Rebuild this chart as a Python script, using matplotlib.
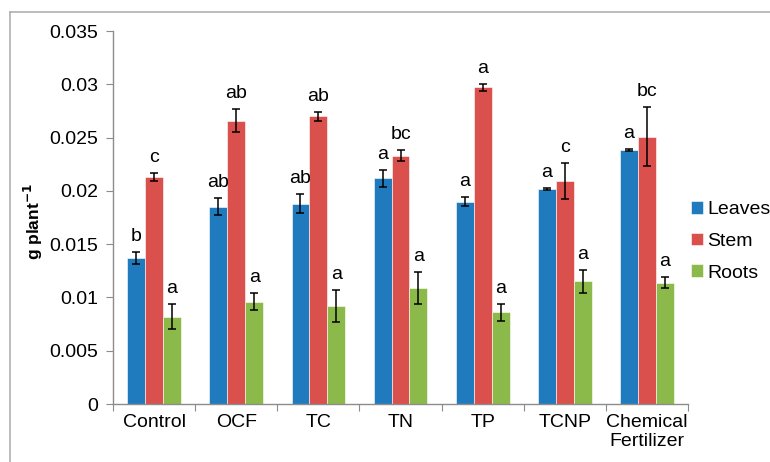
import numpy as np
import matplotlib
matplotlib.use('Agg')
import matplotlib.pyplot as plt
from matplotlib.lines import Line2D

plt.rcParams['font.family'] = ['Liberation Sans', 'DejaVu Sans']

treatments = ['Control', 'OCF', 'TC', 'TN', 'TP', 'TCNP', 'Chemical\nFertilizer']

leaves = [0.0137, 0.0185, 0.0188, 0.0212, 0.0190, 0.0202, 0.0238]
leaves_err = [0.0006, 0.0008, 0.0009, 0.0008, 0.0004, 0.0001, 0.0001]
leaves_sig = ['b', 'ab', 'ab', 'a', 'a', 'a', 'a']

stem = [0.0213, 0.0266, 0.0270, 0.0233, 0.0297, 0.0209, 0.0251]
stem_err = [0.0004, 0.0011, 0.0004, 0.0005, 0.0003, 0.0017, 0.0028]
stem_sig = ['c', 'ab', 'ab', 'bc', 'a', 'c', 'bc']

roots = [0.0082, 0.0096, 0.0092, 0.0109, 0.0086, 0.0115, 0.0114]
roots_err = [0.0012, 0.0008, 0.0015, 0.0015, 0.0008, 0.0011, 0.0005]
roots_sig = ['a', 'a', 'a', 'a', 'a', 'a', 'a']

ytick_vals = [0, 0.005, 0.01, 0.015, 0.02, 0.025, 0.03, 0.035]
ytick_labels = ['0', '0.005', '0.01', '0.015', '0.02', '0.025', '0.03', '0.035']

series = [
    ('Leaves', leaves, leaves_err, leaves_sig, '#1f7bbd'),
    ('Stem', stem, stem_err, stem_sig, '#da504d'),
    ('Roots', roots, roots_err, roots_sig, '#8bba4b'),
]

fig = plt.figure(figsize=(7.7, 4.62), dpi=100)
ax = fig.add_axes([0.1468, 0.1255, 0.7467, 0.8074])

x = np.arange(len(treatments))
w = 0.218
for i, (name, vals, errs, sig, col) in enumerate(series):
    xs = x + (i - 1) * w
    ax.bar(xs, vals, w, color=col, label=name, edgecolor='white', linewidth=0.4, zorder=2)
    ax.errorbar(xs, vals, yerr=errs, fmt='none', ecolor='black', elinewidth=1.1,
                capsize=3, capthick=1.1, zorder=3)
    for xi, v, e, s in zip(xs, vals, errs, sig):
        ax.annotate(s, (xi, v + e), xytext=(0, 5), textcoords='offset points',
                    ha='center', va='bottom', fontsize=14)

ax.set_xlim(-0.5, len(treatments) - 0.5)
ax.set_ylim(0, 0.035)
ax.set_yticks(ytick_vals, ytick_labels)

# boundaries get the tick marks, category names sit between them
ax.set_xticks(np.arange(len(treatments) + 1) - 0.5, [''] * (len(treatments) + 1))
ax.set_xticks(x, treatments, minor=True)
ax.tick_params(axis='x', which='major', length=5, color='#8c8c8c', direction='out')
ax.tick_params(axis='x', which='minor', length=0, pad=7, labelsize=14)
ax.tick_params(axis='y', length=5, color='#8c8c8c', pad=6, labelsize=14)

for side in ['top', 'right']:
    ax.spines[side].set_visible(False)
for side in ['left', 'bottom']:
    ax.spines[side].set_color('#8c8c8c')
    ax.spines[side].set_linewidth(1.0)

fig.text(0.044, 1 - 222 / 462, r'g plant$^{\mathbf{-1}}$', rotation=90,
         ha='center', va='center', fontsize=12.5, fontweight='bold')

ax.legend(loc='center left', bbox_to_anchor=(0.897, 0.478), bbox_transform=fig.transFigure,
          frameon=False, fontsize=14, handlelength=0.65, handleheight=0.65,
          handletextpad=0.2, labelspacing=0.75, borderaxespad=0, borderpad=0)

# outer chart frame (runs off the right and bottom edges)
fig.add_artist(Line2D([10 / 770, 1.0], [1 - 12 / 462] * 2, transform=fig.transFigure,
                      color='#b0b0b0', linewidth=1.2))
fig.add_artist(Line2D([10 / 770] * 2, [0, 1 - 12 / 462], transform=fig.transFigure,
                      color='#b0b0b0', linewidth=1.2))

fig.savefig('out.png', dpi=100)
